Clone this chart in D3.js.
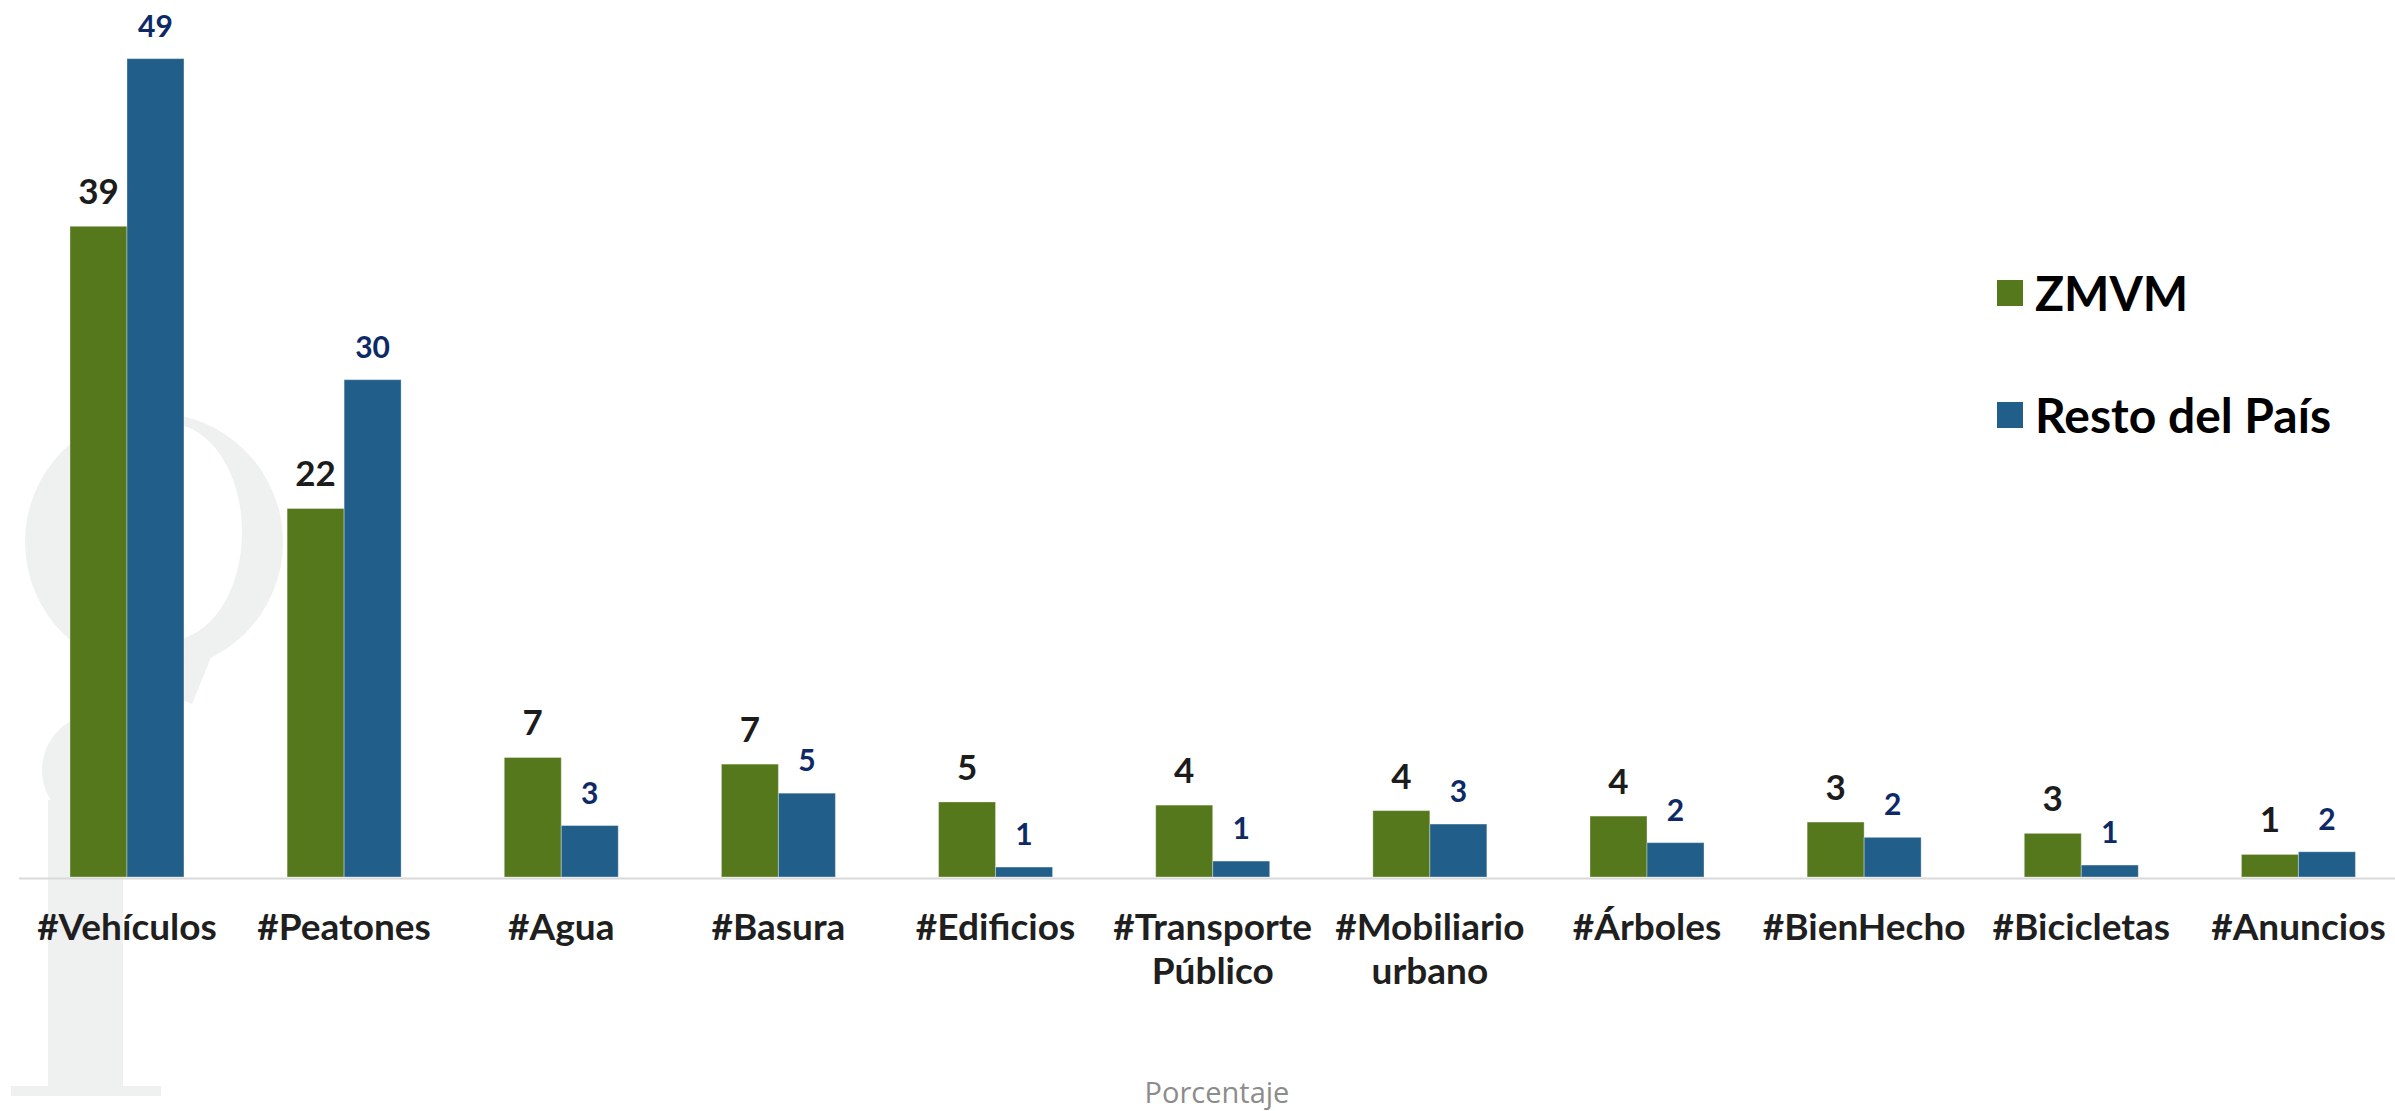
<!DOCTYPE html>
<html>
<head>
<meta charset="utf-8">
<script src="https://cdn.jsdelivr.net/npm/d3@7"></script>
<style>
  html, body { margin: 0; padding: 0; background: #ffffff; }
  svg { display: block; }
</style>
</head>
<body>
<svg id="chart" width="2395" height="1111"></svg>
<script>
// ---- data ----
const categories = ["#Vehículos", "#Peatones", "#Agua", "#Basura", "#Edificios",
  "#Transporte Público", "#Mobiliario urbano", "#Árboles", "#BienHecho", "#Bicicletas", "#Anuncios"];
const categoryLines = [["#Vehículos"], ["#Peatones"], ["#Agua"], ["#Basura"], ["#Edificios"],
  ["#Transporte", "Público"], ["#Mobiliario", "urbano"], ["#Árboles"], ["#BienHecho"], ["#Bicicletas"], ["#Anuncios"]];
const seriesNames = ["ZMVM", "Resto del País"];
const zmvm  = [39.2, 22.2, 7.2, 6.8, 4.52, 4.33, 4.0, 3.67, 3.31, 2.63, 1.36];
const resto = [49.3, 29.96, 3.1, 5.05, 0.6, 0.96, 3.19, 2.07, 2.39, 0.72, 1.52];
const xAxisTitle = "Porcentaje";

// ---- styles ----
const colors = ["#56781c", "#225e8a"];
const labelColors = ["#1c1c1c", "#0e2a66"];

const svg = d3.select("#chart");
const baseline = 877;

// watermark logo (decorative, very light)
const wm = svg.append("g").attr("fill", "#eff0f0");
wm.append("circle").attr("cx", 154).attr("cy", 542).attr("r", 129);
wm.append("path").attr("d", "M196,628 L214,650 L192,704 L172,696 Z");
wm.append("ellipse").attr("cx", 170).attr("cy", 532).attr("rx", 72).attr("ry", 108).attr("fill", "#ffffff");
wm.append("circle").attr("cx", 98).attr("cy", 770).attr("r", 56);
wm.append("rect").attr("x", 48).attr("y", 800).attr("width", 75).attr("height", 290);
wm.append("rect").attr("x", 11).attr("y", 1086).attr("width", 150).attr("height", 10);

// scales
const x0 = d3.scaleBand().domain(categories).range([18.4, 2407]).paddingInner(0.475).paddingOuter(0.2375);
const x1 = d3.scaleBand().domain(seriesNames).range([0, x0.bandwidth()]);
const y = d3.scaleLinear().domain([0, 50]).range([baseline, baseline - 50 * 16.6]);

const rows = categories.map((c, i) => ({ cat: c, vals: [zmvm[i], resto[i]] }));

// bars
const groups = svg.append("g").selectAll("g").data(rows).join("g")
  .attr("transform", d => `translate(${x0(d.cat)},0)`);

groups.selectAll("rect").data(d => d.vals.map((v, j) => ({ v, j }))).join("rect")
  .attr("x", d => x1(seriesNames[d.j]))
  .attr("y", d => y(d.v))
  .attr("width", x1.bandwidth())
  .attr("height", d => y(0) - y(d.v))
  .attr("fill", d => colors[d.j])
  .attr("stroke", "rgba(255,255,255,0.35)")
  .attr("stroke-width", 1);

// value labels
groups.selectAll("text").data(d => d.vals.map((v, j) => ({ v, j }))).join("text")
  .attr("x", d => x1(seriesNames[d.j]) + x1.bandwidth() / 2)
  .attr("y", d => y(d.v) - 22)
  .attr("text-anchor", "middle")
  .attr("font-family", "Lato, 'Open Sans', sans-serif")
  .attr("font-weight", 700)
  .attr("font-size", d => d.j === 0 ? 35 : 30)
  .attr("fill", d => labelColors[d.j])
  .text(d => d3.format(".0f")(d.v));

// x axis
const axis = svg.append("g").attr("transform", `translate(0,${baseline + 1})`)
  .call(d3.axisBottom(x0).tickSize(0).tickSizeOuter(0));
axis.select(".domain").attr("stroke", "#d9d9d9").attr("stroke-width", 2);
axis.selectAll(".tick text").each(function(d, i) {
  const t = d3.select(this);
  t.text(null).attr("dy", null).attr("y", 62)
    .attr("font-family", "Lato, 'Open Sans', sans-serif")
    .attr("font-weight", 700)
    .attr("font-size", 37)
    .attr("fill", "#1f1f1f");
  categoryLines[i].forEach((line, k) => {
    t.append("tspan").attr("x", 0).attr("y", 62 + k * 44).text(line);
  });
});

// axis title
svg.append("text")
  .attr("x", 1217).attr("y", 1103)
  .attr("text-anchor", "middle")
  .attr("font-family", "'Open Sans', sans-serif")
  .attr("font-size", 29)
  .attr("fill", "#8c8c8c")
  .text(xAxisTitle);

// legend
const legend = svg.append("g");
const legendY = [293, 415];
seriesNames.forEach((name, j) => {
  legend.append("rect")
    .attr("x", 1997).attr("y", legendY[j] - 13)
    .attr("width", 26).attr("height", 26)
    .attr("fill", colors[j]);
  legend.append("text")
    .attr("x", 2035).attr("y", legendY[j] + 18)
    .attr("font-family", "Lato, 'Open Sans', sans-serif")
    .attr("font-weight", 700)
    .attr("font-size", 48)
    .attr("fill", "#000000")
    .text(name);
});
</script>
</body>
</html>
